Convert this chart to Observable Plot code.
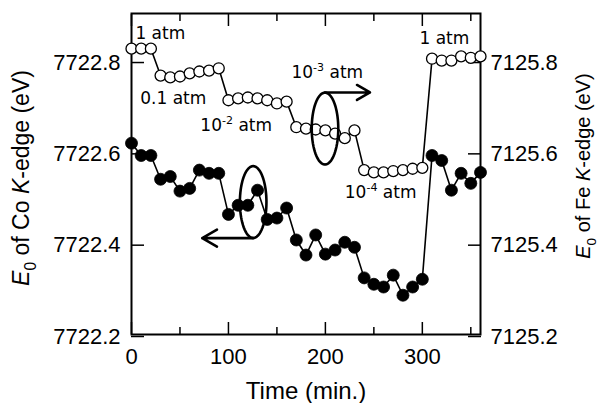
<!DOCTYPE html>
<html><head><meta charset="utf-8">
<script src="https://cdn.jsdelivr.net/npm/d3@7"></script>
<script src="https://cdn.jsdelivr.net/npm/@observablehq/plot@0.6"></script>
<style>
html,body{margin:0;padding:0;background:#fff;}
#chart{width:598px;height:403px;overflow:hidden;}
</style>
</head><body><div id="chart"></div>
<script>
// Time (min.)
const time = [0,10,20,30,40,50,60,70,80,90,100,110,120,130,140,150,160,170,180,190,200,210,220,230,240,250,260,270,280,290,300,310,320,330,340,350,360];
// E0 of Co K-edge (eV), filled circles, left axis
const coEdge = [7722.619,7722.592,7722.592,7722.540,7722.546,7722.514,7722.520,7722.560,7722.553,7722.553,
  7722.463,7722.483,7722.483,7722.516,7722.452,7722.455,7722.477,7722.407,7722.374,7722.418,
  7722.376,7722.385,7722.402,7722.391,7722.324,7722.310,7722.304,7722.330,7722.286,7722.304,
  7722.321,7722.592,7722.581,7722.516,7722.553,7722.531,7722.555];
// E0 of Fe K-edge (eV), open circles, right axis
const feEdge = [7125.826,7125.826,7125.826,7125.767,7125.763,7125.765,7125.772,7125.776,7125.778,7125.783,
  7125.713,7125.717,7125.719,7125.717,7125.713,7125.706,7125.710,7125.654,7125.651,7125.649,
  7125.647,7125.640,7125.630,7125.647,7125.560,7125.555,7125.555,7125.558,7125.560,7125.563,
  7125.565,7125.804,7125.800,7125.800,7125.809,7125.806,7125.809];
const feOffset = 597.0; // right axis = left axis - 597 eV

const xMajorTicks = [0,100,200,300];
const xMinorTicks = [50,150,250,350];
const coTicks = [7722.2,7722.4,7722.6,7722.8];
const feTicks = [7125.2,7125.4,7125.6,7125.8];

const pressureLabels = ["1 atm","0.1 atm","10^{-2} atm","10^{-3} atm","10^{-4} atm","1 atm"];
const labelTime = [4, 9, 71, 165, 220, 297];
const labelCo = [7722.859, 7722.717, 7722.658, 7722.774, 7722.511, 7722.848];

// annotation ellipses (pointing which axis each series uses)
const ellipseTime = [125.5, 199.6];
const ellipseCo = [7722.490, 7722.651];
const ellipseRx = 13.7;   // min
const ellipseRy = 0.0787; // eV
const arrowStart = [125.5, 199.6];
const arrowEnd = [73, 246];
const arrowCo = [7722.411, 7722.730];

const coData = time.map((t,i) => ({t, v: coEdge[i]}));
const feData = time.map((t,i) => ({t, v: feEdge[i] + feOffset}));

const ellipsePts = [];
ellipseTime.forEach((cx, k) => {
  for (let j = 0; j < 72; j++) {
    const a = j / 72 * 2 * Math.PI;
    ellipsePts.push({id: k, t: cx + ellipseRx * Math.cos(a), v: ellipseCo[k] + ellipseRy * Math.sin(a)});
  }
});

const tickFont = 22;
const plot = Plot.plot({
  width: 598, height: 403,
  marginLeft: 131, marginRight: 118, marginTop: 13, marginBottom: 69,
  style: {fontFamily: "'Liberation Sans', Arial, sans-serif", background: "#fff", color: "#000"},
  x: {domain: [0, 360]},
  y: {domain: [7722.2, 7722.903]},
  marks: [
    Plot.axisX(xMajorTicks, {anchor: "bottom", tickSize: -12, tickPadding: 26, fontSize: tickFont, tickFormat: d => String(d), label: null, strokeWidth: 1.5}),
    Plot.axisX(xMinorTicks, {anchor: "bottom", tickSize: -7, tickFormat: () => "", label: null, strokeWidth: 1.5}),
    Plot.axisX(xMajorTicks, {anchor: "top", tickSize: -12, tickFormat: () => "", label: null, strokeWidth: 1.5}),
    Plot.axisX(xMinorTicks, {anchor: "top", tickSize: -7, tickFormat: () => "", label: null, strokeWidth: 1.5}),
    Plot.axisY(coTicks, {anchor: "left", tickSize: -13, tickPadding: 24, dy: 2, fontSize: tickFont, tickFormat: d => d.toFixed(1), label: null, strokeWidth: 1.5}),
    Plot.axisY(feTicks.map(v => v + feOffset), {anchor: "right", tickSize: -13, tickPadding: 23, dy: 2, fontSize: tickFont, tickFormat: d => (d - feOffset).toFixed(1), label: null, strokeWidth: 1.5}),
    Plot.frame({stroke: "#000", strokeWidth: 2}),
    Plot.line(coData, {x: "t", y: "v", stroke: "#000", strokeWidth: 1.6}),
    Plot.dot(coData, {x: "t", y: "v", r: 6, fill: "#000", stroke: "#000", strokeWidth: 0.8}),
    Plot.line(feData, {x: "t", y: "v", stroke: "#000", strokeWidth: 1.6}),
    Plot.dot(feData, {x: "t", y: "v", r: 5.5, fill: "#fff", stroke: "#000", strokeWidth: 1.3}),
    Plot.line(ellipsePts, {x: "t", y: "v", z: "id", curve: "linear-closed", stroke: "#000", strokeWidth: 2.6}),
    Plot.arrow(arrowStart, {x1: d => d, x2: (d,i) => arrowEnd[i], y1: (d,i) => arrowCo[i], y2: (d,i) => arrowCo[i], stroke: "#000", strokeWidth: 2.6, headLength: 13, bend: false}),
    Plot.text(pressureLabels, {x: (d,i) => labelTime[i], y: (d,i) => labelCo[i], text: d => d, textAnchor: "start", lineAnchor: "middle", fontSize: 17, fontFamily: "'DejaVu Sans', Verdana, sans-serif", fill: "#000"}),
    Plot.text(["Time (min.)"], {frameAnchor: "bottom", text: d => d, dy: 57, textAnchor: "middle", lineAnchor: "middle", fontSize: 24, fill: "#000"}),
    Plot.text(["*E*_{0} of Co *K*-edge (eV)"], {frameAnchor: "left", text: d => d, dx: -110, dy: 4, rotate: -90, textAnchor: "middle", lineAnchor: "middle", fontSize: 23, fill: "#000"}),
    Plot.text(["*E*_{0} of Fe *K*-edge (eV)"], {frameAnchor: "right", text: d => d, dx: 103, dy: -8, rotate: -90, textAnchor: "middle", lineAnchor: "middle", fontSize: 20, fill: "#000"})
  ]
});
document.getElementById("chart").appendChild(plot);

// rich text: *italic*, _{sub}, ^{sup}
function richText(root) {
  root.querySelectorAll("text").forEach(t => {
    const s = t.textContent;
    if (!/\*|_\{|\^\{/.test(s)) return;
    const fs = parseFloat(getComputedStyle(t).fontSize) || 16;
    t.textContent = "";
    const re = /\*([^*]+)\*|_\{([^}]*)\}|\^\{([^}]*)\}|([^*_^]+)/g;
    let m, shift = 0;
    while ((m = re.exec(s))) {
      const ts = document.createElementNS("http://www.w3.org/2000/svg", "tspan");
      let target = 0;
      if (m[1] !== undefined) { ts.textContent = m[1]; ts.setAttribute("font-style", "italic"); }
      else if (m[2] !== undefined) { ts.textContent = m[2]; ts.setAttribute("font-size", fs * 0.68); target = 0.3 * fs; }
      else if (m[3] !== undefined) { ts.textContent = m[3]; ts.setAttribute("font-size", fs * 0.65); target = -0.38 * fs; }
      else ts.textContent = m[4];
      if (target !== shift) { ts.setAttribute("dy", target - shift); shift = target; }
      t.appendChild(ts);
    }
  });
}
richText(plot);
</script>
</body></html>
